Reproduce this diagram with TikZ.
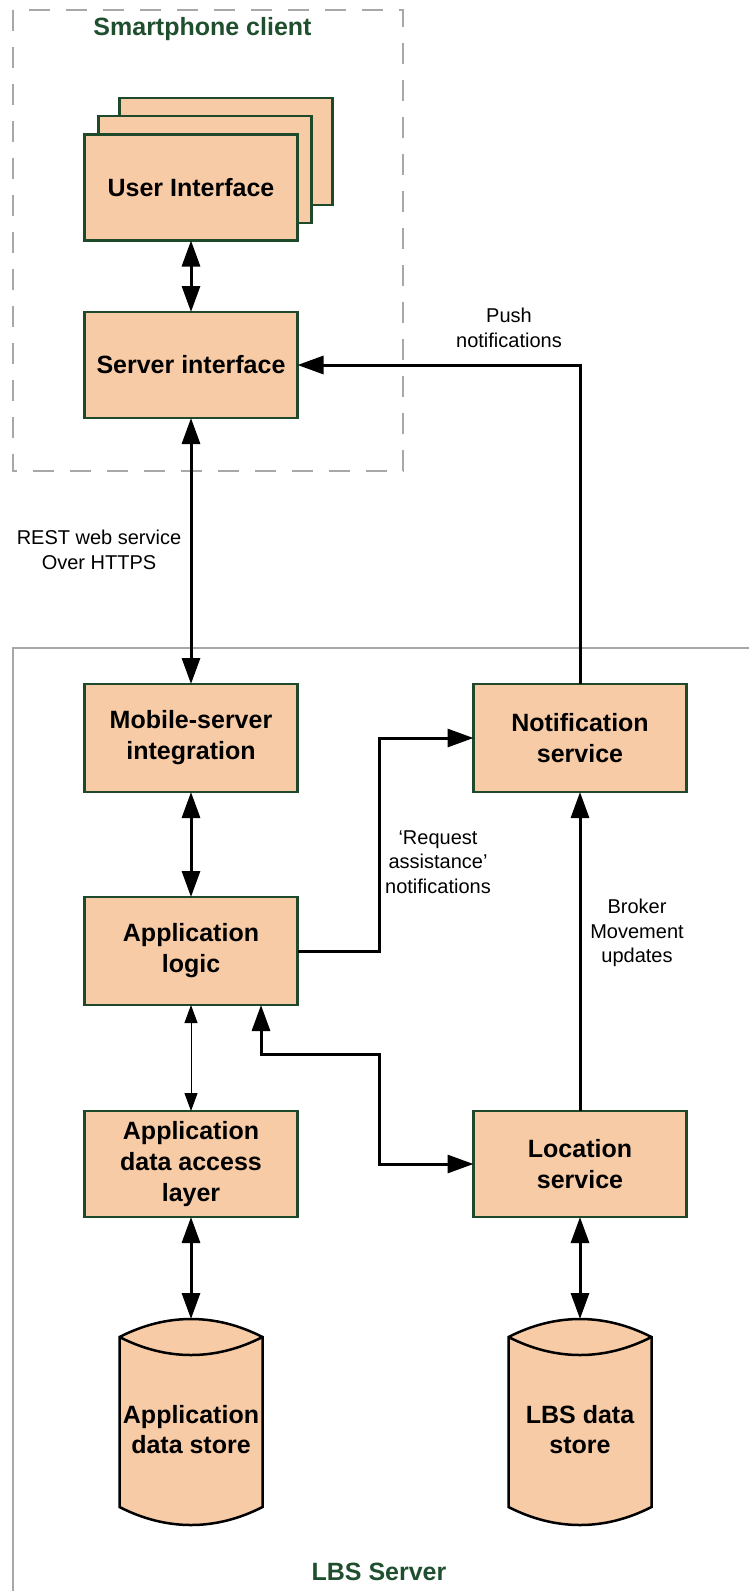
\documentclass[tikz,border=0pt]{standalone}
\usepackage{fontspec}
\setmainfont{Liberation Sans}
\usetikzlibrary{arrows.meta,calc}

\definecolor{peach}{HTML}{F8CBA7}
\definecolor{boxedge}{HTML}{1E4A2B}
\definecolor{titlegreen}{HTML}{1F4F2F}
\definecolor{framegray}{HTML}{A8A8A8}

\tikzset{
  comp/.style={draw=boxedge, fill=peach, line width=2.5pt, minimum width=213pt,
    minimum height=107pt, inner sep=0pt, outer sep=0pt, align=center,
    font=\fontsize{25pt}{31pt}\selectfont\bfseries},
  dbbox/.style={minimum width=143pt, minimum height=206pt, inner sep=0pt, outer sep=0pt},
  dbline/.style={draw=black, fill=peach, line width=2.5pt, line join=miter},
  dbtext/.style={align=center, inner sep=0pt, font=\fontsize{25pt}{30pt}\selectfont\bfseries},
  frametitle/.style={text=titlegreen, inner sep=0pt, font=\fontsize{25pt}{30pt}\selectfont\bfseries},
  note/.style={align=center, inner sep=0pt, font=\fontsize{20pt}{24.5pt}\selectfont},
  link/.style={draw=black, line width=3pt, -{Triangle[length=26pt,width=18pt]}},
  duplex/.style={draw=black, line width=3pt,
    {Triangle[length=26pt,width=18pt]}-{Triangle[length=26pt,width=18pt]}},
  thinduplex/.style={draw=black, line width=1pt,
    {Triangle[length=18pt,width=13pt]}-{Triangle[length=18pt,width=13pt]}},
}

% database drum drawn inside the bounds of an (empty) node
\newcommand\drawdb[1]{%
  \filldraw[dbline]
    ([yshift=-18pt]#1.north west)
      .. controls ([xshift=47pt,yshift=6pt]#1.north west) and ([xshift=-47pt,yshift=6pt]#1.north east) ..
    ([yshift=-18pt]#1.north east)
    -- ([yshift=18pt]#1.south east)
      .. controls ([xshift=-47pt,yshift=-6pt]#1.south east) and ([xshift=47pt,yshift=-6pt]#1.south west) ..
    ([yshift=18pt]#1.south west) -- cycle;
  \draw[dbline, fill=none]
    ([yshift=-18pt]#1.north west)
      .. controls ([xshift=47pt,yshift=-42pt]#1.north west) and ([xshift=-47pt,yshift=-42pt]#1.north east) ..
    ([yshift=-18pt]#1.north east);
}

\begin{document}
\begin{tikzpicture}[x=1pt,y=-1pt]
\useasboundingbox (0,0) rectangle (749,1591);

% container frames
\draw[framegray, line width=2.7pt, dash pattern=on 21pt off 16pt] (13,10) rectangle (403,471);
\node[frametitle] (clienttitle) at (202.5,29.5) {Smartphone client};
\draw[framegray, line width=2.5pt] (760,648) -- (13,648) -- (13,1600);
\node[frametitle] (servertitle) at (379,1572) {LBS Server};

% smartphone components
\node[comp] (ui3) at (226,151.5) {};
\node[comp] (ui2) at (205,169.5) {};
\node[comp, minimum height=106pt] (ui) at (191,187.5) {User Interface};
\node[comp, minimum height=106pt] (si) at (191,365) {Server interface};

% server components
\node[comp, minimum height=108pt] (ms) at (191,738) {Mobile-server\\integration};
\node[comp, minimum height=108pt] (ns) at (580,738) {Notification\\service};
\node[comp, minimum height=108pt] (al) at (191,951) {Application\\logic};
\node[comp, minimum height=106pt] (ad) at (191,1164) {Application\\data access\\layer};
\node[comp, minimum height=106pt] (ls) at (580,1164) {Location\\service};

% data stores
\node[dbbox] (astore) at (191,1422) {};
\drawdb{astore}
\node[dbtext] (astorelabel) at ([yshift=-8pt]astore.center) {Application\\data store};
\node[dbbox] (lstore) at (580,1422) {};
\drawdb{lstore}
\node[dbtext] (lstorelabel) at ([yshift=-8pt]lstore.center) {LBS data\\store};

% routing helpers
\coordinate (busx) at (379,0);
\coordinate (alport) at ([xshift=70pt]al.south);
\coordinate (jog) at (379,1054);

% connectors
\draw[duplex] (ui.south) -- (si.north);
\draw[duplex] (si.south) -- (ms.north);
\draw[link] (ns.north) |- (si.east);
\draw[duplex] (ms.south) -- (al.north);
\draw[link] (al.east) -| (busx |- ns.west) -- (ns.west);
\draw[link] (ls.north) -- (ns.south);
\draw[duplex] (alport) |- (jog) |- (ls.west);
\draw[thinduplex] (al.south) -- (ad.north);
\draw[duplex] (ad.south) -- (astore.north);
\draw[duplex] (ls.south) -- (lstore.north);

% connector labels
\node[note] (pushlbl) at (509,328) {Push\\notifications};
\node[note] (restlbl) at (99,550) {REST web service\\Over HTTPS};
\node[note] (reqlbl) at (438,862) {‘Request\\assistance’\\notifications};
\node[note] (brokerlbl) at (637,933) {Broker\\Movement\\updates};
\end{tikzpicture}
\end{document}
